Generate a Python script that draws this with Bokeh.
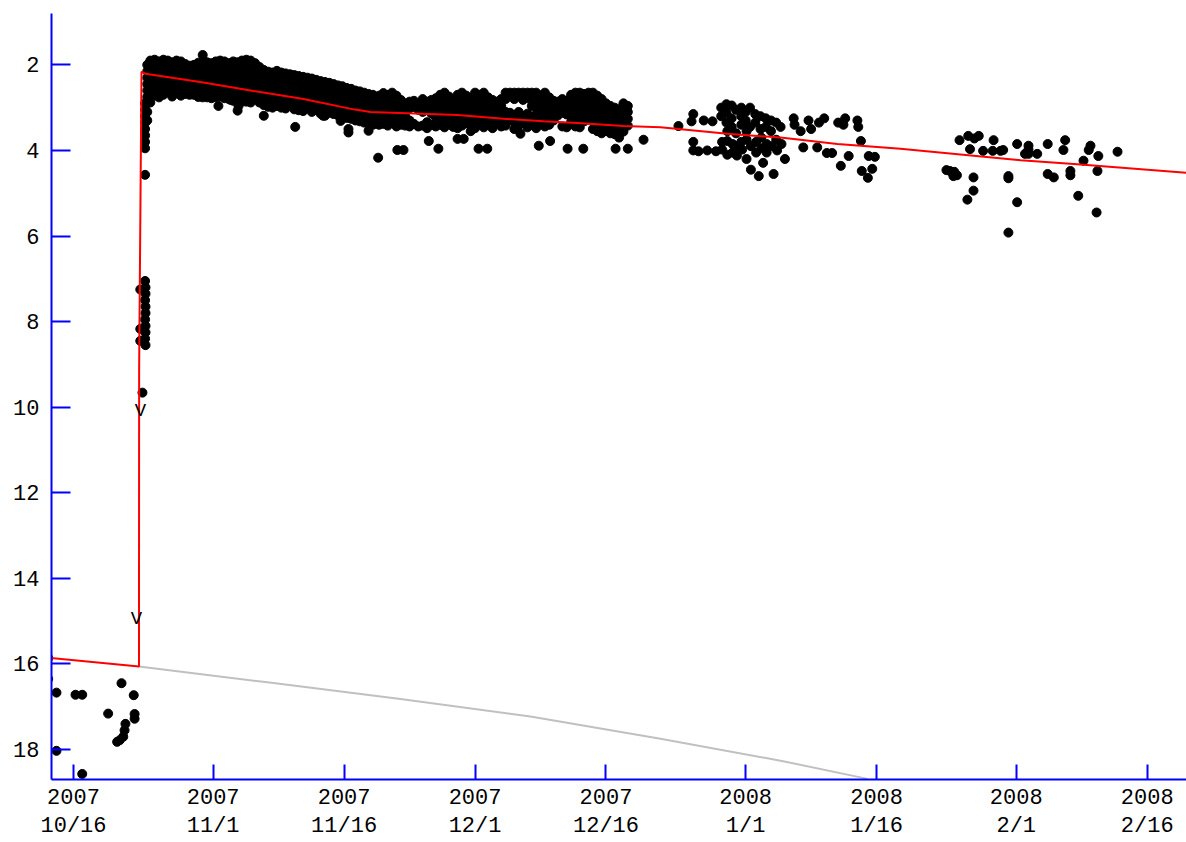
from bokeh.plotting import figure
from bokeh.models import Range1d, FixedTicker, CustomJSTickFormatter
from bokeh.core.properties import value
from bokeh.embed import file_html
from bokeh.resources import INLINE
import pandas as pd

# ---------------- data (days after 2007-10-16 00:00 UT, magnitude) ----------------
EPOCH = "2007-10-16"

tick_dates = ["2007-10-16", "2007-11-01", "2007-11-16", "2007-12-01", "2007-12-16",
              "2008-01-01", "2008-01-16", "2008-02-01", "2008-02-16"]
y_ticks = [2, 4, 6, 8, 10, 12, 14, 16, 18]

# pre-outburst observations
pre_days = [-2.9, -2.9, -1.95, 0.23, 1.0, 3.97, 5.5, 6.9, 7.0, 7.0, 5.95, 5.85, 5.7, 5.3, 5.0, -1.95, 1.0]
pre_mags = [15.86, 16.35, 16.67, 16.72, 16.72, 17.16, 16.45, 16.73, 17.17, 17.28, 17.4, 17.55, 17.7, 17.78, 17.82, 18.03, 18.57]

# rise
rise_days = [8.2, 8.25, 8.25, 8.2, 8.25, 8.25, 8.2, 8.25, 8.25, 8.2, 8.25, 7.65, 7.65, 7.65, 7.9]
rise_mags = [7.05, 7.2, 7.35, 7.5, 7.65, 7.8, 7.95, 8.1, 8.25, 8.4, 8.55, 7.25, 8.17, 8.45, 9.66]

# dense band after outburst: one column per observing slot
band_days = [8.2, 8.45, 8.8, 9.3, 9.8, 10.3, 10.8, 11.3, 11.8, 12.3, 12.8, 13.3, 13.8, 14.3, 14.8,
             15.3, 15.8, 16.3, 16.8, 17.3, 17.8, 18.3, 18.8, 19.3, 19.8, 20.3, 20.8, 21.3, 21.8,
             22.3, 22.8, 23.3, 23.8, 24.3, 24.8, 25.3, 25.8, 26.3, 26.8, 27.3, 27.8, 28.3, 28.8,
             29.3, 29.8, 30.3, 30.8, 31.3, 31.8, 32.3, 32.8, 33.3, 33.8, 34.3,
             35.0, 35.5, 36.0, 36.5, 37.0, 37.5, 38.0, 38.5, 39.0, 39.5, 40.0, 40.5, 41.0, 41.5,
             42.0, 42.5, 43.0, 43.5, 44.0, 44.5, 45.0, 45.5, 46.0, 46.5, 47.0, 47.5, 48.0, 48.5,
             49.0, 49.5, 50.0, 50.5, 51.0, 51.5, 52.0, 52.5, 53.0, 53.5, 54.0, 54.5, 55.0, 55.5,
             56.0, 56.5, 57.0, 57.5, 58.0, 58.5, 59.0, 59.5, 60.0, 60.5, 61.0, 61.5, 62.0, 62.5,
             63.0, 63.5]
band_mags = [
    [2.9, 3.05, 3.2, 3.35, 3.5, 3.65, 3.8, 3.95, 4.57],
    [2.0, 2.15, 2.3, 2.45, 2.6, 2.75, 2.9, 3.1, 3.3],
    [1.9, 2.04, 2.18, 2.32, 2.46, 2.6, 2.74, 2.88],
    [1.88, 2.02, 2.16, 2.3, 2.44, 2.58, 2.72],
    [1.92, 2.06, 2.2, 2.34, 2.48, 2.62, 2.76],
    [1.88, 2.02, 2.16, 2.3, 2.44, 2.58, 2.7],
    [1.9, 2.04, 2.18, 2.32, 2.46, 2.6],
    [1.94, 2.08, 2.22, 2.36, 2.5, 2.64, 2.74],
    [1.9, 2.04, 2.18, 2.32, 2.46, 2.6],
    [1.92, 2.06, 2.2, 2.34, 2.48, 2.62, 2.72],
    [1.98, 2.12, 2.26, 2.4, 2.54, 2.68],
    [2.02, 2.16, 2.3, 2.44, 2.58, 2.7],
    [2.0, 2.14, 2.28, 2.42, 2.56, 2.7],
    [1.95, 2.09, 2.23, 2.37, 2.51, 2.65, 2.75],
    [1.77, 1.94, 2.08, 2.22, 2.36, 2.5, 2.64, 2.76],
    [1.94, 2.08, 2.22, 2.36, 2.5, 2.64, 2.76],
    [1.96, 2.1, 2.24, 2.38, 2.52, 2.66, 2.78],
    [1.92, 2.06, 2.2, 2.34, 2.48, 2.62, 2.76],
    [1.9, 2.04, 2.18, 2.32, 2.46, 2.6, 2.74],
    [1.92, 2.06, 2.2, 2.34, 2.48, 2.62, 2.78],
    [1.96, 2.1, 2.24, 2.38, 2.52, 2.66, 2.8],
    [1.92, 2.06, 2.2, 2.34, 2.48, 2.62, 2.76, 2.84],
    [1.94, 2.08, 2.22, 2.36, 2.5, 2.64, 2.78],
    [1.9, 2.04, 2.18, 2.32, 2.46, 2.6, 2.74, 2.86],
    [1.88, 2.02, 2.16, 2.3, 2.44, 2.58, 2.72, 2.86],
    [1.9, 2.04, 2.18, 2.32, 2.46, 2.6, 2.74, 2.88],
    [1.96, 2.1, 2.24, 2.38, 2.52, 2.66, 2.8],
    [2.05, 2.18, 2.32, 2.46, 2.6, 2.74, 2.88],
    [2.12, 2.26, 2.4, 2.54, 2.68, 2.82, 2.94],
    [2.16, 2.3, 2.44, 2.58, 2.72, 2.86, 2.98],
    [2.18, 2.32, 2.46, 2.6, 2.74, 2.88, 3.0],
    [2.14, 2.28, 2.42, 2.56, 2.7, 2.84, 2.96],
    [2.18, 2.32, 2.46, 2.6, 2.74, 2.88, 3.0],
    [2.2, 2.34, 2.48, 2.62, 2.76, 2.9, 3.02],
    [2.22, 2.36, 2.5, 2.64, 2.78, 2.92],
    [2.24, 2.38, 2.52, 2.66, 2.8, 2.94, 3.04],
    [2.26, 2.4, 2.54, 2.68, 2.82, 2.96, 3.06],
    [2.28, 2.42, 2.56, 2.7, 2.84, 2.98, 3.08],
    [2.3, 2.44, 2.58, 2.72, 2.86, 3.0],
    [2.32, 2.46, 2.6, 2.74, 2.88, 3.02, 3.1],
    [2.35, 2.49, 2.63, 2.77, 2.91, 3.05],
    [2.38, 2.52, 2.66, 2.8, 2.94, 3.08, 3.14],
    [2.4, 2.54, 2.68, 2.82, 2.96, 3.1, 3.19],
    [2.42, 2.56, 2.7, 2.84, 2.98, 3.12],
    [2.45, 2.59, 2.73, 2.87, 3.01, 3.15],
    [2.48, 2.62, 2.76, 2.9, 3.04, 3.18],
    [2.5, 2.64, 2.78, 2.92, 3.06, 3.2],
    [2.54, 2.68, 2.82, 2.96, 3.1, 3.24],
    [2.56, 2.7, 2.84, 2.98, 3.12, 3.26],
    [2.6, 2.74, 2.88, 3.02, 3.16, 3.3],
    [2.62, 2.76, 2.9, 3.04, 3.18, 3.32],
    [2.65, 2.79, 2.93, 3.07, 3.21, 3.35],
    [2.68, 2.82, 2.96, 3.1, 3.24, 3.38],
    [2.7, 2.84, 2.98, 3.12, 3.26, 3.4],
    [2.72, 2.86, 3.0, 3.14, 3.28, 3.4],
    [2.66, 2.8, 2.95, 3.1, 3.24, 3.38],
    [2.7, 2.85, 3.02, 3.16, 3.3, 3.42],
    [2.65, 2.78, 2.92, 3.06, 3.2, 3.35],
    [2.72, 2.88, 3.04, 3.18, 3.32, 3.44],
    [2.82, 2.98, 3.12, 3.26, 3.4],
    [2.9, 3.06, 3.2, 3.42],
    [2.86, 3.02, 3.3, 3.44],
    [2.84, 2.98, 3.38],
    [2.9, 3.05, 3.44],
    [2.8, 2.95, 3.1, 3.42],
    [2.86, 3.0, 3.34, 3.48],
    [2.82, 3.0, 3.14, 3.4],
    [2.78, 2.92, 3.08, 3.22, 3.44],
    [2.7, 2.85, 3.0, 3.26, 3.4],
    [2.65, 2.8, 2.96, 3.12, 3.3, 3.46],
    [2.74, 2.9, 3.06, 3.2, 3.36],
    [2.82, 2.98, 3.14, 3.3, 3.45],
    [2.7, 2.86, 3.02, 3.18, 3.34, 3.48],
    [2.65, 2.8, 2.96, 3.12, 3.28, 3.42],
    [2.72, 2.88, 3.04, 3.2, 3.36],
    [2.78, 2.94, 3.1, 3.26, 3.42, 3.55],
    [2.65, 2.82, 3.0, 3.16, 3.32, 3.48],
    [2.7, 2.86, 3.02, 3.2, 3.38],
    [2.65, 2.8, 2.98, 3.14, 3.3, 3.46],
    [2.76, 2.92, 3.08, 3.24, 3.4],
    [2.82, 2.98, 3.14, 3.3, 3.48],
    [2.86, 3.02, 3.18, 3.34],
    [2.8, 2.96, 3.12, 3.28, 3.44],
    [2.65, 2.8, 3.1, 3.26, 3.42],
    [2.65, 3.12, 3.28],
    [2.65, 2.8, 3.18, 3.34, 3.5],
    [2.65, 3.1, 3.26, 3.42],
    [2.65, 2.82, 3.2, 3.36],
    [2.65, 2.78, 3.14, 3.3, 3.46],
    [2.65, 2.8, 2.96, 3.22, 3.38],
    [2.65, 2.82, 3.0, 3.16, 3.32, 3.48],
    [2.72, 2.88, 3.04, 3.2, 3.36],
    [2.65, 2.8, 2.96, 3.12, 3.28, 3.44],
    [2.76, 2.92, 3.08, 3.24, 3.4],
    [2.84, 3.0, 3.16, 3.3],
    [2.86, 3.02, 3.18],
    [2.8, 2.96, 3.12, 3.44],
    [2.84, 3.0, 3.16, 3.46],
    [2.7, 2.86, 3.02, 3.18, 3.34],
    [2.65, 2.8, 2.96, 3.12, 3.28, 3.44],
    [2.65, 2.82, 2.98, 3.14, 3.3, 3.46],
    [2.68, 2.84, 3.0, 3.16, 3.32],
    [2.65, 2.8, 2.96, 3.12, 3.28],
    [2.65, 2.82, 2.98, 3.14, 3.3, 3.5],
    [2.72, 2.88, 3.04, 3.2, 3.36, 3.55],
    [2.8, 2.96, 3.12, 3.28, 3.44, 3.6],
    [2.9, 3.06, 3.22, 3.38, 3.54],
    [2.96, 3.12, 3.28, 3.44, 3.6],
    [3.0, 3.16, 3.32, 3.48, 3.62],
    [3.04, 3.2, 3.36, 3.52, 3.7],
    [2.9, 3.08, 3.24, 3.4, 3.56],
    [2.96, 3.1, 3.26, 3.42],
]

# scattered points around the band
scat_days = [16.6, 18.0, 18.8, 18.9, 21.8, 25.4, 28.6, 30.6, 31.5, 31.5, 33.8, 34.9, 37.1, 37.8,
             40.7, 41.8, 44.0, 44.7, 46.4, 47.4, 51.2, 53.3, 54.6, 56.6, 58.4, 62.1, 63.5, 65.3, 69.3]
scat_mags = [2.96, 2.82, 3.07, 2.96, 3.19, 3.45, 3.19, 3.31, 3.5, 3.58, 3.54, 4.17, 3.99, 3.99,
             3.78, 3.96, 3.73, 3.73, 3.96, 3.96, 3.61, 3.89, 3.78, 3.96, 3.96, 3.96, 3.96, 3.75, 3.43]

# January 2008 group
jan_days = [70.8, 71.0, 71.0, 71.0, 71.6, 72.2, 72.6, 73.2, 73.6,
            74.2, 74.2, 74.3, 74.3, 74.8, 74.8, 74.8, 74.9, 74.9, 74.9,
            75.4, 75.4, 75.4, 75.5, 75.5, 75.9, 75.9, 75.9, 76.0,
            76.5, 76.5, 76.5, 76.5, 76.6, 77.0, 77.0, 77.1, 77.1, 77.1, 77.5, 77.5, 77.6, 77.6,
            78.1, 78.1, 78.2, 78.2, 78.5, 78.7, 78.7, 78.8, 78.8, 79.0, 79.3, 79.3, 79.4, 79.4,
            79.9, 79.9, 80.0, 80.2, 80.5, 80.5, 80.6, 81.0, 81.1, 81.5,
            82.5, 82.6, 83.3, 83.6, 84.2, 84.5, 85.2, 85.4, 86.0, 86.3, 86.9, 87.6, 87.9,
            88.2, 88.4, 88.8, 89.8, 89.9, 90.2, 90.3, 91.1, 91.5, 91.0, 91.8]
jan_mags = [3.32, 3.15, 3.8, 4.0, 4.02, 3.3, 4.0, 3.32, 4.02,
            3.0, 3.2, 3.8, 3.98, 2.92, 3.12, 3.35, 3.55, 3.78, 4.1,
            2.95, 3.25, 3.45, 3.85, 4.05, 3.05, 3.6, 3.9, 4.12,
            3.0, 3.2, 3.4, 3.8, 3.98, 3.1, 3.3, 3.55, 3.75, 4.2, 3.0, 3.45, 3.9, 4.45,
            3.15, 3.35, 3.8, 4.05, 4.6, 3.2, 3.5, 3.7, 3.95, 4.29, 3.25, 3.45, 3.85, 4.05,
            3.3, 3.55, 3.9, 4.55, 3.35, 3.75, 4.0, 3.45, 3.85, 4.2,
            3.25, 3.4, 3.55, 3.93, 3.3, 3.5, 3.93, 3.35, 3.25, 4.06, 4.06, 3.35, 4.36,
            3.4, 3.25, 4.13, 3.3, 3.45, 3.78, 4.48, 4.13, 4.43, 4.64, 4.15]

# February 2008 group
feb_days = [100.0, 100.4, 100.9, 101.2, 100.8, 101.5, 102.5, 103.7, 103.2, 102.7, 104.2, 102.4,
            103.1, 103.1, 105.4, 105.3, 106.2, 106.5, 107.1, 107.1, 107.1, 108.1, 108.1, 109.4,
            109.4, 109.4, 109.0, 110.4, 111.6, 111.6, 112.3, 113.6, 113.4, 114.2, 114.2, 115.1,
            115.7, 116.5, 116.3, 117.4, 117.3, 117.2, 119.6]
feb_mags = [4.46, 4.48, 4.5, 4.58, 4.6, 3.76, 3.66, 3.66, 3.72, 3.97, 4.01, 5.15,
            4.63, 4.94, 3.76, 4.01, 4.01, 3.99, 4.6, 4.65, 5.92, 3.85, 5.21, 3.89,
            3.98, 4.08, 4.08, 4.08, 3.85, 4.55, 4.63, 3.76, 3.99, 4.48, 4.58, 5.06,
            4.24, 3.89, 3.99, 4.13, 4.48, 5.45, 4.03]

# model curves
red_days = [-3.0, 7.50, 7.52, 7.79, 8.25, 14.89, 20.62, 26.35, 32.07, 34.02, 43.99, 49.26,
            53.84, 57.73, 63.0, 67.24, 74.91, 80.99, 87.51, 94.73, 108.5, 115.0, 128.0]
red_mags = [15.85, 16.06, 9.08, 2.16, 2.21, 2.41, 2.61, 2.80, 3.04, 3.10, 3.17, 3.26,
            3.32, 3.36, 3.43, 3.46, 3.61, 3.70, 3.85, 3.96, 4.23, 4.32, 4.53]
gray_days = [7.50, 22.22, 37.46, 52.35, 67.24, 80.99, 90.84, 92.0]
gray_mags = [16.06, 16.43, 16.82, 17.23, 17.75, 18.26, 18.68, 18.95]

# "V" marks (visual estimates)
v_days = [7.67, 7.2]
v_mags = [10.08, 14.95]

x_start_day, x_end_day = -2.52, 127.5
y_top, y_bottom = 0.8, 18.7

# ---------------- helpers ----------------
T0_MS = pd.Timestamp(EPOCH).value / 1e6
DAY_MS = 86400000.0


def to_ms(days):
    return [T0_MS + d * DAY_MS for d in days]


dot_days, dot_mags = [], []
for d, ms in zip(band_days, band_mags):
    for m in ms:
        dot_days.append(d)
        dot_mags.append(m)
for dd, mm in [(pre_days, pre_mags), (rise_days, rise_mags), (scat_days, scat_mags),
               (jan_days, jan_mags), (feb_days, feb_mags)]:
    dot_days += dd
    dot_mags += mm

# ---------------- figure ----------------
p = figure(width=1186, height=842, x_axis_type="datetime",
           x_range=Range1d(T0_MS + x_start_day * DAY_MS, T0_MS + x_end_day * DAY_MS),
           y_range=Range1d(y_bottom, y_top),
           output_backend="svg", toolbar_location=None,
           min_border_left=51, min_border_right=0, min_border_top=13, min_border_bottom=63)
p.outline_line_color = None
p.xgrid.visible = False
p.ygrid.visible = False
p.background_fill_color = "white"
p.border_fill_color = "white"

BLUE = "#0000FF"
xa = p.xaxis[0]
xa.ticker = FixedTicker(ticks=[pd.Timestamp(d).value / 1e6 for d in tick_dates])
xa.formatter = CustomJSTickFormatter(code="""
const d = new Date(tick);
return d.getUTCFullYear() + "\\n" + (d.getUTCMonth() + 1) + "/" + d.getUTCDate();
""")
ya = p.yaxis[0]
ya.ticker = FixedTicker(ticks=y_ticks)

for ax, tin in [(xa, 15), (ya, 19)]:
    ax.axis_line_color = BLUE
    ax.axis_line_width = 2
    ax.major_tick_line_color = BLUE
    ax.major_tick_line_width = 2
    ax.major_tick_in = tin
    ax.major_tick_out = 0
    ax.minor_tick_line_color = None
    ax.major_label_text_font = "Liberation Mono"
    ax.major_label_text_font_size = "22px"
    ax.major_label_text_color = "black"
xa.major_label_standoff = 6
xa.major_label_text_line_height = 1.15
ya.major_label_standoff = 12

p.line(to_ms(gray_days), gray_mags, line_color="#C0C0C0", line_width=2)
p.scatter(to_ms(dot_days), dot_mags, marker="circle", size=9, fill_color="black", line_color="black")
p.line(to_ms(red_days), red_mags, line_color="#FF0000", line_width=2)
p.text(to_ms(v_days), v_mags, text=["V", "V"], text_font=value("Liberation Mono"),
       text_font_size="19px", text_align="center", text_baseline="middle", text_color="black")

open("out.html", "w").write(file_html(p, INLINE))
